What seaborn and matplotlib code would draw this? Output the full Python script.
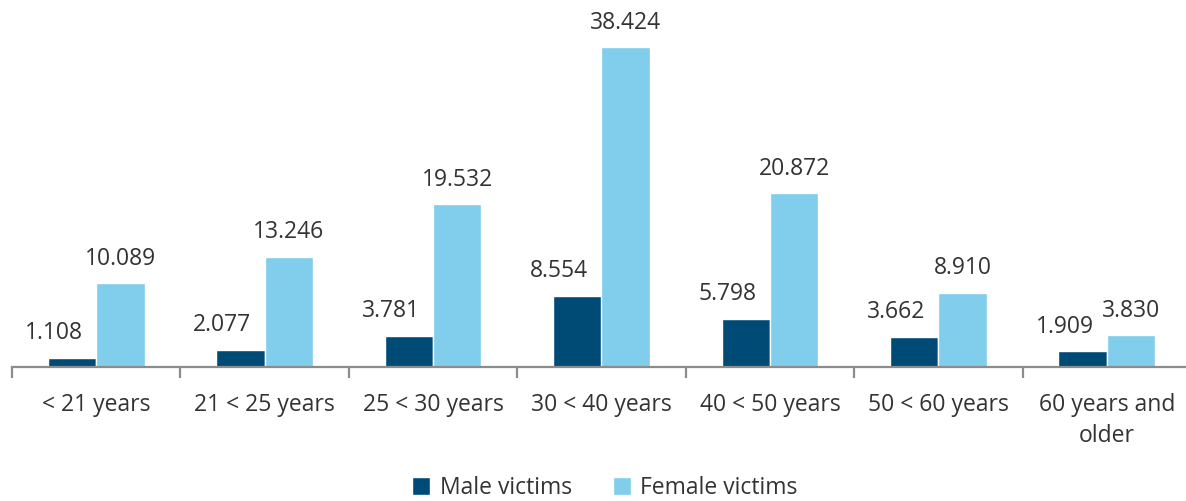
import numpy as np
import pandas as pd
import matplotlib
matplotlib.use("Agg")
import matplotlib.pyplot as plt
from matplotlib.ticker import FixedLocator
import seaborn as sns

# data
age_groups = ["< 21 years", "21 < 25 years", "25 < 30 years", "30 < 40 years",
              "40 < 50 years", "50 < 60 years", "60 years and\nolder"]
male_victims = [1108, 2077, 3781, 8554, 5798, 3662, 1909]
female_victims = [10089, 13246, 19532, 38424, 20872, 8910, 3830]
series_names = ["Male victims", "Female victims"]

df = pd.DataFrame({
    "age": age_groups * 2,
    "series": [series_names[0]] * len(age_groups) + [series_names[1]] * len(age_groups),
    "victims": male_victims + female_victims,
})

sns.set_style("white")
plt.rcParams["font.family"] = ["Open Sans", "DejaVu Sans"]
text_color = "#333333"

fig = plt.figure(figsize=(11.86, 5.01), dpi=100)
ax = fig.add_axes([12 / 1186, 134 / 501, 1179 / 1186, 333 / 501])

sns.barplot(
    data=df, x="age", y="victims", hue="series",
    palette=["#004B76", "#80CDEC"], width=0.575, gap=0,
    saturation=1, ax=ax, legend=True
)

ax.set_xlim(-0.5, 6.5)
ax.set_ylim(0, 40000)

# value labels, German thousand separator
for i, container in enumerate(ax.containers):
    shift = -13 if i == 0 else 0
    for bar in container:
        h = bar.get_height()
        ax.annotate(
            f"{h:,.0f}".replace(",", "."),
            (bar.get_x() + bar.get_width() / 2, h),
            xytext=(shift, 9), textcoords="offset points",
            ha="center", va="bottom", fontsize=16.5, color=text_color
        )

for side in ["top", "right", "left"]:
    ax.spines[side].set_visible(False)
ax.spines["bottom"].set_color("#8c8c8c")
ax.spines["bottom"].set_linewidth(1.6)

ax.set_yticks([])
ax.set_xlabel("")
ax.set_ylabel("")
ax.tick_params(axis="x", which="major", length=0, pad=19,
               labelsize=16.5, labelcolor=text_color)
for lbl in ax.get_xticklabels():
    lbl.set_linespacing(1.35)
ax.xaxis.set_minor_locator(FixedLocator(np.arange(-0.5, 7, 1)))
ax.tick_params(axis="x", which="minor", bottom=True, length=8, width=1.6,
               color="#8c8c8c", direction="out")

ax.legend(
    loc="center", bbox_to_anchor=(605 / 1186, 13 / 501),
    bbox_transform=fig.transFigure, ncol=2, frameon=False,
    fontsize=16.5, handlelength=0.8, handleheight=0.8,
    handletextpad=0.4, columnspacing=1.8, labelcolor=text_color
)

fig.savefig("out.png", dpi=100)
